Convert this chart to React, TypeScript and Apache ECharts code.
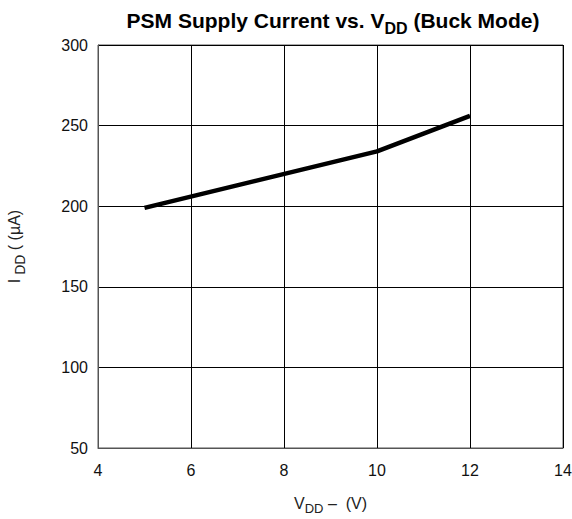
import React, { useEffect, useRef } from "react";
import * as echarts from "echarts";

const vdd = [5, 10, 12];
const idd = [199, 234, 256];
const xTicks = [4, 6, 8, 10, 12, 14];
const yTicks = [50, 100, 150, 200, 250, 300];

export default function App() {
  const ref = useRef<HTMLDivElement>(null);
  useEffect(() => {
    document.body.style.margin = "0";
    if (!ref.current) return;
    const chart = echarts.init(ref.current, null, { renderer: "svg", width: 572, height: 519 });
    const font = "'Liberation Sans', Arial, Helvetica, sans-serif";
    chart.setOption({
      animation: false,
      backgroundColor: "#fff",
      title: {
        text: "{b|PSM Supply Current vs. V}{s|DD}{b| (Buck Mode)}",
        left: 328,
        textAlign: "center",
        top: 5,
        textStyle: {
          rich: {
            b: { fontFamily: font, fontWeight: "bold", fontSize: 21, color: "#000", lineHeight: 25, verticalAlign: "top" },
            s: { fontFamily: font, fontWeight: "bold", fontSize: 16, color: "#000", lineHeight: 25, padding: [10, 0, 0, 0], verticalAlign: "top" },
          },
        },
      },
      grid: {
        left: 98, right: 9, top: 45, bottom: 71,
        show: true, borderColor: "#555", borderWidth: 1,
        outerBoundsMode: "none",
        outerBounds: { left: -200, right: -200, top: -200, bottom: -200 },
        containLabel: false,
      },
      xAxis: {
        type: "value",
        min: xTicks[0],
        max: xTicks[xTicks.length - 1],
        interval: 2,
        name: "{n|V}{s|DD}{n| –  (V)}",
        nameLocation: "middle",
        nameGap: 47,
        nameTextStyle: {
          rich: {
            n: { fontFamily: font, fontSize: 16, color: "#222", lineHeight: 20, verticalAlign: "top" },
            s: { fontFamily: font, fontSize: 13, color: "#222", lineHeight: 20, padding: [7, 0, 0, 0], verticalAlign: "top" },
          },
        },
        axisLine: { show: true, lineStyle: { color: "#555" } },
        axisTick: { show: false },
        axisLabel: { fontFamily: font, fontSize: 16, color: "#111", margin: 14 },
        splitLine: { show: true, lineStyle: { color: "#000", width: 1 } },
      },
      yAxis: {
        type: "value",
        min: yTicks[0],
        max: yTicks[yTicks.length - 1],
        interval: 50,
        name: "{n|I}{s| DD}{n| ( (µA)}",
        nameLocation: "middle",
        nameGap: 72,
        nameRotate: 90,
        nameTextStyle: {
          rich: {
            n: { fontFamily: font, fontSize: 16, color: "#222", lineHeight: 20, verticalAlign: "top" },
            s: { fontFamily: font, fontSize: 14, color: "#222", lineHeight: 20, padding: [7, 0, 0, 0], verticalAlign: "top" },
          },
        },
        axisLine: { show: true, lineStyle: { color: "#555" } },
        axisTick: { show: false },
        axisLabel: { fontFamily: font, fontSize: 16, color: "#111", margin: 10 },
        splitLine: { show: true, lineStyle: { color: "#000", width: 1 } },
      },
      series: [
        {
          type: "line",
          data: vdd.map((v, i) => [v, idd[i]]),
          showSymbol: false,
          lineStyle: { color: "#000", width: 4.5 },
        },
      ],
    });
    return () => chart.dispose();
  }, []);
  return <div ref={ref} style={{ width: 572, height: 519 }} />;
}
